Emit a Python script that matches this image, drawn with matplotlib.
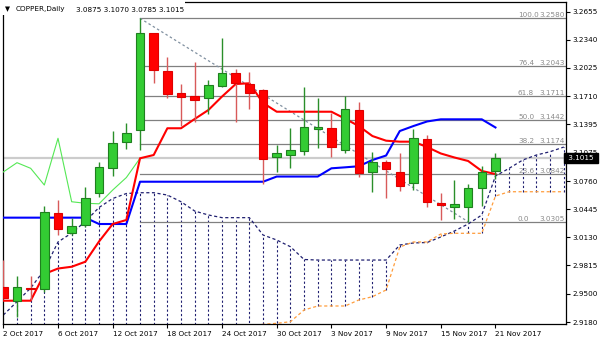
import matplotlib
matplotlib.use("Agg")
import matplotlib.pyplot as plt
from matplotlib.patches import Rectangle
from matplotlib.transforms import blended_transform_factory

# ─── Data ──────────────────────────────────────────────────────────────────────

date_ticks  = [0, 4, 8, 12, 16, 20, 24, 28, 32, 36]
date_labels = ["2 Oct 2017", "6 Oct 2017", "12 Oct 2017", "18 Oct 2017",
               "24 Oct 2017", "30 Oct 2017", "3 Nov 2017", "9 Nov 2017",
               "15 Nov 2017", "21 Nov 2017"]

opens  = [2.9574, 2.9421, 2.9560, 2.9549, 3.0399, 3.0175, 3.0268, 3.0622, 3.0909, 3.1200,
          3.1331, 3.2412, 3.1991, 3.1741, 3.1711, 3.1685, 3.1823, 3.1971, 3.1845, 3.1778,
          3.1025, 3.1051, 3.1099, 3.1345, 3.1350, 3.1107, 3.1554, 3.0864, 3.0969, 3.0864,
          3.0741, 3.1227, 3.0511, 3.0473, 3.0466, 3.0678, 3.0875]
highs  = [2.9876, 2.9697, 2.9697, 3.0480, 3.0548, 3.0343, 3.0696, 3.0976, 3.1320, 3.1412,
          3.2580, 3.2420, 3.2144, 3.1845, 3.2095, 3.1890, 3.2356, 3.2013, 3.1983, 3.1790,
          3.1163, 3.1350, 3.1815, 3.1685, 3.1517, 3.1711, 3.1647, 3.1088, 3.0995, 3.1077,
          3.1338, 3.1275, 3.0622, 3.0771, 3.0726, 3.0928, 3.1070]
lows   = [2.9440, 2.9242, 2.9425, 2.9522, 3.0156, 3.0156, 3.0242, 3.0578, 3.0816, 3.1115,
          3.1107, 3.1860, 3.1692, 3.1375, 3.1423, 3.1509, 3.1811, 3.1423, 3.1562, 3.0727,
          3.0864, 3.0902, 3.1051, 3.1126, 3.1032, 3.1070, 3.0808, 3.0640, 3.0567, 3.0651,
          3.0659, 3.0466, 3.0324, 3.0332, 3.0305, 3.0480, 3.0785]
closes = [2.9451, 2.9571, 2.9552, 3.0410, 3.0220, 3.0257, 3.0573, 3.0920, 3.1188, 3.1294,
          3.2412, 3.2002, 3.1733, 3.1696, 3.1666, 3.1834, 3.1971, 3.1853, 3.1748, 3.1003,
          3.1077, 3.1107, 3.1361, 3.1367, 3.1137, 3.1562, 3.0853, 3.0969, 3.0891, 3.0707,
          3.1238, 3.0522, 3.0488, 3.0499, 3.0685, 3.0864, 3.1015]

# Ichimoku lines
tenkan = [2.9421, 2.9421, 2.9421, 2.9720, 2.9781, 2.9801, 2.9857, 3.0083, 3.0279, 3.0324,
          3.1014, 3.1051, 3.1350, 3.1350, 3.1454, 3.1554, 3.1705, 3.1845, 3.1853, 3.1633,
          3.1535, 3.1535, 3.1535, 3.1535, 3.1535, 3.1457, 3.1375, 3.1263, 3.1211, 3.1200,
          3.1200, 3.1140, 3.1068, 3.1023, 3.0984, 3.0872, 3.0838]
kijun  = [3.0350, 3.0350, 3.0350, 3.0350, 3.0350, 3.0350, 3.0350, 3.0279, 3.0279, 3.0279,
          3.0752, 3.0752, 3.0752, 3.0752, 3.0752, 3.0752, 3.0752, 3.0752, 3.0752, 3.0752,
          3.0810, 3.0810, 3.0810, 3.0810, 3.0902, 3.0913, 3.0925, 3.0995, 3.1045, 3.1319,
          3.1375, 3.1426, 3.1450, 3.1450, 3.1450, 3.1450, 3.1359]
chikou = [3.0861, 3.0965, 3.0902, 3.0715, 3.1238, 3.0528, 3.0511, 3.0505, 3.0659, 3.0799,
          3.1015]
span_a = [2.9261, 2.9410, 2.9563, 2.9765, 3.0078, 3.0178, 3.0307, 3.0464, 3.0564, 3.0620,
          3.0629, 3.0629, 3.0603, 3.0528, 3.0424, 3.0380, 3.0350, 3.0350, 3.0350, 3.0156,
          3.0100, 3.0025, 2.9882, 2.9876, 2.9876, 2.9876, 2.9876, 2.9876, 2.9876, 3.0044,
          3.0067, 3.0072, 3.0134, 3.0201, 3.0279, 3.0380, 3.0816, 3.0902, 3.0995, 3.1051,
          3.1088, 3.1140]
span_b = [2.9105, 2.9105, 2.9105, 2.9105, 2.9105, 2.9105, 2.9105, 2.9105, 2.9105, 2.9105,
          2.9105, 2.9105, 2.9105, 2.9105, 2.9105, 2.9105, 2.9105, 2.9110, 2.9130, 2.9157,
          2.9168, 2.9186, 2.9317, 2.9362, 2.9362, 2.9362, 2.9429, 2.9466, 2.9541, 3.0022,
          3.0078, 3.0078, 3.0167, 3.0175, 3.0175, 3.0175, 3.0592, 3.0640, 3.0640, 3.0640,
          3.0640, 3.0640]

# Fibonacci retracement (high on bar 10, low on bar 34)
fib_levels = ["100.0", "76.4", "61.8", "50.0", "38.2", "23.6", "0.0"]
fib_prices = [3.2580, 3.2043, 3.1711, 3.1442, 3.1174, 3.0842, 3.0305]
fib_hi_bar, fib_lo_bar = 10, 34

price_ticks = [3.2655, 3.2340, 3.2025, 3.1710, 3.1395, 3.1075, 3.0760,
               3.0445, 3.0130, 2.9815, 2.9500, 2.9180]
last_price = 3.1015
title_ohlc = "3.0875 3.1070 3.0785 3.1015"

# ─── Style ─────────────────────────────────────────────────────────────────────

FS = 5.2
plt.rcParams["font.family"] = "DejaVu Sans"
plt.rcParams["font.size"] = FS

UP_FILL, UP_EDGE, UP_WICK = "#33cc33", "#1f7f1f", "#2a8f2a"
DN_FILL, DN_EDGE, DN_WICK = "#ff0000", "#e00000", "#d85a5a"
NAVY, ORANGE = "#1f1f70", "#ff9d3c"

W, H = 600, 343
fig = plt.figure(figsize=(W / 100, H / 100), dpi=100)
ax = fig.add_axes([2.5 / W, (H - 324.3) / H, (566 - 2.5) / W, (324.3 - 1.5) / H])
ax.set_xlim(-0.06, 41.16)
ax.set_ylim(2.91571, 3.2768)

# ─── Cloud (hatched senkou spans) ──────────────────────────────────────────────

xs = list(range(len(span_a)))
for i in xs:
    col = NAVY if span_a[i] >= span_b[i] else ORANGE
    ax.vlines(i, span_b[i], span_a[i], colors=col, linewidth=0.8,
              linestyles=(0, (2, 2)), zorder=1)
ax.plot(xs, span_a, color=NAVY, lw=0.9, ls=(0, (2.5, 2)), zorder=2)
ax.plot(xs, span_b, color=ORANGE, lw=0.9, ls=(0, (2.5, 2)), zorder=2)

# bid line + fibo
ax.axhline(last_price, color="#cccccc", lw=1.6, zorder=0.5)
for lvl, p in zip(fib_levels, fib_prices):
    ax.plot([fib_hi_bar, 41.16], [p, p], color="#808080", lw=0.9, zorder=1.5)
    ax.text(518 / W * W / 563.5 - 2.5 / 563.5, p, lvl, color="#8a8a8a", fontsize=FS,
            ha="left", va="bottom", transform=blended_transform_factory(ax.transAxes, ax.transData))
    ax.text((565 - 2.5) / 563.5, p, f"{p:.4f}", color="#8a8a8a", fontsize=FS,
            ha="right", va="bottom", transform=blended_transform_factory(ax.transAxes, ax.transData))
ax.plot([fib_hi_bar, fib_lo_bar], [fib_prices[0], fib_prices[-1]],
        color="#8090a0", lw=0.9, ls=(0, (2, 2)), zorder=1.5)

# ─── Ichimoku lines ────────────────────────────────────────────────────────────

ax.plot(range(len(chikou)), chikou, color="#55e855", lw=0.8, zorder=3)
ax.plot(range(len(kijun)), kijun, color="#0000ff", lw=1.5, zorder=3)
ax.plot(range(len(tenkan)), tenkan, color="#ff0000", lw=1.5, zorder=3)

# ─── Candles ───────────────────────────────────────────────────────────────────

for i, (o, h, l, c) in enumerate(zip(opens, highs, lows, closes)):
    up = c >= o
    ax.vlines(i, l, h, colors=UP_WICK if up else DN_WICK, lw=1.0, zorder=4)
    lo, hi = min(o, c), max(o, c)
    ax.add_patch(Rectangle((i - 0.31, lo), 0.62, max(hi - lo, 0.0006),
                           facecolor=UP_FILL if up else DN_FILL,
                           edgecolor=UP_EDGE if up else DN_EDGE, lw=0.8, zorder=5))

# ─── Axes decoration ───────────────────────────────────────────────────────────

for s in ax.spines.values():
    s.set_color("black")
    s.set_linewidth(0.9)
ax.yaxis.tick_right()
ax.set_yticks(price_ticks)
ax.set_yticklabels([f"{p:.4f}" for p in price_ticks])
ax.set_xticks(date_ticks)
ax.set_xticklabels(date_labels, ha="left")
ax.tick_params(axis="y", direction="out", length=3, width=0.8, pad=1.5, labelsize=FS)
ax.tick_params(axis="x", direction="out", length=3, width=0.8, pad=1.5, labelsize=FS)
for lab in ax.get_xticklabels():
    lab.set_x(0)

ax.text(1.0, last_price, " 3.1015 ", color="white", fontsize=FS, ha="left", va="center",
        transform=blended_transform_factory(ax.transAxes, ax.transData),
        bbox=dict(boxstyle="square,pad=0.25", fc="black", ec="black"), zorder=10,
        clip_on=False)

# title block (covers the frame like the terminal does)
fig.add_artist(Rectangle((0, 1 - 15 / H), 185 / W, 15 / H, transform=fig.transFigure,
                         facecolor="white", edgecolor="none", zorder=1))
fig.text(5 / W, 1 - 9.5 / H, "\u25bc", fontsize=FS - 0.5, va="center", zorder=2)
fig.text(16 / W, 1 - 9.5 / H, "COPPER,Daily", fontsize=FS, va="center", zorder=2)
fig.text(76 / W, 1 - 9.5 / H, title_ohlc, fontsize=FS, va="center", zorder=2)

fig.savefig("out.png", dpi=100)
